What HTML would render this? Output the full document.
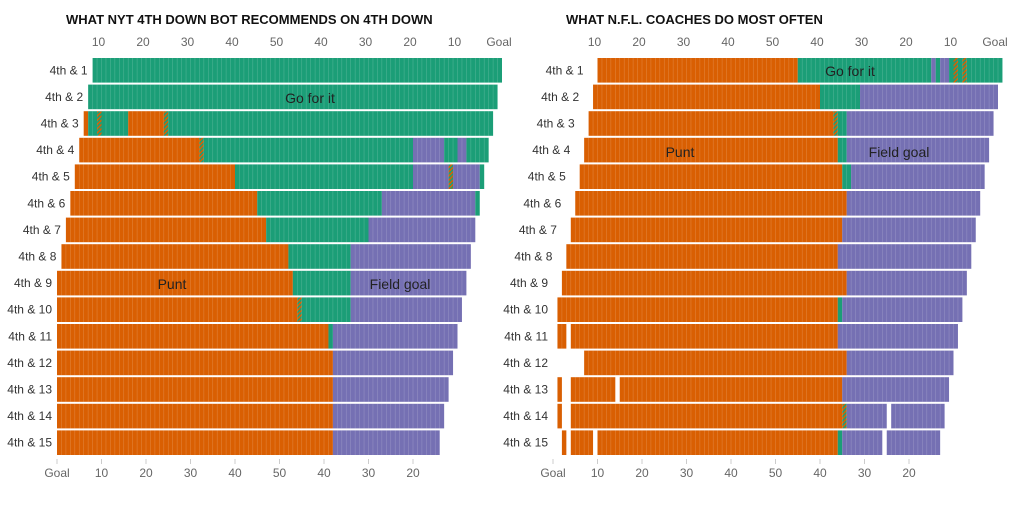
<!DOCTYPE html>
<html><head><meta charset="utf-8"><style>
body{margin:0;background:#fff;width:1035px;height:500px;overflow:hidden;font-family:"Liberation Sans",sans-serif}
</style></head><body>
<svg id="c" width="1035" height="500">
<defs><pattern id="hatch" width="3" height="3" patternUnits="userSpaceOnUse" patternTransform="rotate(45)"><rect width="3" height="3" fill="#1b9e77"/><rect width="1.5" height="3" fill="#d95f02"/></pattern></defs>
</svg>
<script>
const rowLabels=["4th & 1","4th & 2","4th & 3","4th & 4","4th & 5","4th & 6","4th & 7","4th & 8","4th & 9","4th & 10","4th & 11","4th & 12","4th & 13","4th & 14","4th & 15"];
const topTicks=["10","20","30","40","50","40","30","20","10","Goal"];
const bottomTicks=["Goal","10","20","30","40","50","40","30","20"];
// segments: [startYard,endYard,category] P=punt G=go F=field goal H=mixed
const botSegments=[
[[8,100,"G"]],
[[7,99,"G"]],
[[6,7,"P"],[7,9,"G"],[9,10,"H"],[10,16,"G"],[16,24,"P"],[24,25,"H"],[25,98,"G"]],
[[5,32,"P"],[32,33,"H"],[33,80,"G"],[80,87,"F"],[87,90,"G"],[90,92,"F"],[92,97,"G"]],
[[4,40,"P"],[40,80,"G"],[80,88,"F"],[88,89,"H"],[89,95,"F"],[95,96,"G"]],
[[3,45,"P"],[45,73,"G"],[73,94,"F"],[94,95,"G"]],
[[2,47,"P"],[47,70,"G"],[70,94,"F"]],
[[1,52,"P"],[52,66,"G"],[66,93,"F"]],
[[0,53,"P"],[53,66,"G"],[66,92,"F"]],
[[0,54,"P"],[54,55,"H"],[55,66,"G"],[66,91,"F"]],
[[0,61,"P"],[61,62,"G"],[62,90,"F"]],
[[0,62,"P"],[62,89,"F"]],
[[0,62,"P"],[62,88,"F"]],
[[0,62,"P"],[62,87,"F"]],
[[0,62,"P"],[62,86,"F"]]];
const coachSegments=[
[[10,55,"P"],[55,85,"G"],[85,86,"F"],[86,87,"G"],[87,89,"F"],[89,90,"G"],[90,91,"H"],[91,92,"G"],[92,93,"H"],[93,101,"G"]],
[[9,60,"P"],[60,69,"G"],[69,100,"F"]],
[[8,63,"P"],[63,64,"H"],[64,66,"G"],[66,99,"F"]],
[[7,64,"P"],[64,66,"G"],[66,98,"F"]],
[[6,65,"P"],[65,67,"G"],[67,97,"F"]],
[[5,66,"P"],[66,96,"F"]],
[[4,65,"P"],[65,95,"F"]],
[[3,64,"P"],[64,94,"F"]],
[[2,66,"P"],[66,93,"F"]],
[[1,64,"P"],[64,65,"G"],[65,92,"F"]],
[[1,3,"P"],[4,64,"P"],[64,91,"F"]],
[[7,66,"P"],[66,90,"F"]],
[[1,2,"P"],[4,14,"P"],[15,65,"P"],[65,89,"F"]],
[[1,2,"P"],[4,65,"P"],[65,66,"H"],[66,75,"F"],[76,88,"F"]],
[[2,3,"P"],[4,9,"P"],[10,64,"P"],[64,65,"G"],[65,74,"F"],[75,87,"F"]]];
const colors={P:"#d95f02",G:"#1b9e77",F:"#7570b3",H:"url(#hatch)"};
const NS="http://www.w3.org/2000/svg";
const svg=document.getElementById("c");
const ppy=4.45, rowTop=58, rowStep=26.6, rowH=24.6;
function mk(tag,attrs,parent){const e=document.createElementNS(NS,tag);for(const k in attrs)e.setAttribute(k,attrs[k]);(parent||svg).appendChild(e);return e;}
function panel(segs,ox,labelOff,title,tx,labels,name){
  const g=mk("g",{});
  
  
  const xs=y=>ox+y*ppy, ys=i=>rowTop+i*rowStep;
  const t=mk("text",{x:tx,y:24,"font-size":13,"font-weight":"bold",fill:"#111","font-family":"Liberation Sans Narrow, Liberation Sans, sans-serif"},g);t.textContent=title;
  
  
  topTicks.forEach((l,i)=>{const x=xs((i+1)*10)-3;
    const tt=mk("text",{x:x,y:46,"font-size":12,fill:"#666","text-anchor":"middle"},g);tt.textContent=l;
    
    });
  bottomTicks.forEach((l,i)=>{const x=xs(i*10);
    const tt=mk("text",{x:x,y:477,"font-size":12,fill:"#666","text-anchor":"middle"},g);tt.textContent=l;
    
    
    mk("line",{x1:x,x2:x,y1:459,y2:464,stroke:"#ccc","stroke-width":1},g);});
  segs.forEach((row,i)=>{
    const st=Math.max(0,8-i);
    const lb=mk("text",{x:xs(st)-5+labelOff,y:ys(i)+rowH/2+4,"font-size":12,fill:"#333","text-anchor":"end"},g);lb.textContent=rowLabels[i];
    
    
    row.forEach(s=>{
      const r=mk("rect",{x:xs(s[0]),y:ys(i),width:(s[1]-s[0])*ppy,height:rowH,fill:colors[s[2]]},g);
      
      
      for(let yd=s[0]+1;yd<s[1];yd++)mk("line",{x1:xs(yd),x2:xs(yd),y1:ys(i),y2:ys(i)+rowH,stroke:"rgba(255,255,255,0.22)","stroke-width":0.6},g);
    });
  });
  labels.forEach(l=>{const tt=mk("text",{x:l[1],y:l[2],"font-size":14,fill:"#222","text-anchor":"middle"},g);tt.textContent=l[0];
    
    });
}
panel(botSegments,57,0,"WHAT NYT 4TH DOWN BOT RECOMMENDS ON 4TH DOWN",66,[["Go for it",310,103],["Punt",172,289],["Field goal",400,289]],"bot-panel");
panel(coachSegments,553,0,"WHAT N.F.L. COACHES DO MOST OFTEN",566,[["Go for it",850,76],["Punt",680,157],["Field goal",899,157]],"coaches-panel");
</script>
</body></html>
